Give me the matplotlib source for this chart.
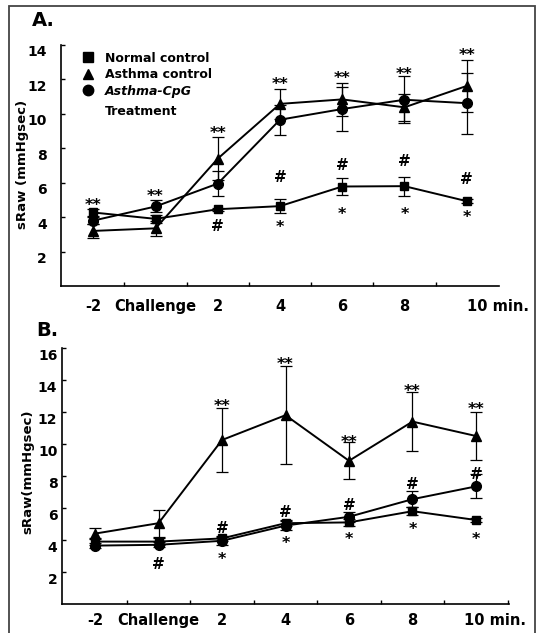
import matplotlib
matplotlib.use('Agg')
import matplotlib.pyplot as plt
import matplotlib.transforms as mtransforms
from matplotlib.lines import Line2D
from matplotlib.patches import Rectangle
import numpy as np

plt.rcParams['font.family'] = ['DejaVu Sans']
plt.rcParams['font.weight'] = 'bold'

# ---------------- data ----------------
categories = ['-2', 'Challenge', '2', '4', '6', '8', '10 min.']
series_names = ['Normal control', 'Asthma control', 'Asthma-CpG']

# Panel A
normal_A = [4.27, 3.90, 4.46, 4.64, 5.78, 5.80, 4.93]
normal_A_err = [0.20, 0.25, 0.10, 0.42, 0.47, 0.55, 0.10]
asthma_A = [3.20, 3.35, 7.40, 10.58, 10.84, 10.38, 11.62]
asthma_A_err = [0.42, 0.45, 1.26, 0.88, 0.98, 0.78, 1.50]
cpg_A = [3.80, 4.62, 5.95, 9.66, 10.28, 10.82, 10.62]
cpg_A_err = [0.20, 0.35, 0.75, 0.86, 1.30, 1.36, 1.78]

# Panel B
normal_B = [3.90, 3.90, 4.10, 5.05, 5.10, 5.80, 5.25]
normal_B_err = [0.20, 0.20, 0.15, 0.20, 0.20, 0.25, 0.10]
asthma_B = [4.40, 5.05, 10.25, 11.80, 8.95, 11.40, 10.50]
asthma_B_err = [0.35, 0.85, 2.00, 3.05, 1.15, 1.85, 1.50]
cpg_B = [3.65, 3.70, 3.95, 4.90, 5.45, 6.55, 7.35]
cpg_B_err = [0.15, 0.15, 0.25, 0.30, 0.30, 0.50, 0.75]

# significance marks (index of time point, y value)
A_dstar_idx = [0, 1, 2, 3, 4, 5, 6]
A_dstar_y = [4.80, 5.30, 9.00, 11.84, 12.20, 12.40, 13.50]
A_hash_idx = [2, 3, 4, 5, 6]
A_hash_y = [3.53, 6.34, 7.07, 7.30, 6.24]
A_star_idx = [3, 4, 5, 6]
A_star_y = [3.53, 4.30, 4.30, 4.08]

B_dstar_idx = [2, 3, 4, 5, 6]
B_dstar_y = [12.50, 15.10, 10.25, 13.40, 12.27]
B_hash_idx = [1, 2, 3, 4, 5, 6]
B_hash_y = [2.54, 4.80, 5.77, 6.19, 7.54, 8.17]
B_star_idx = [2, 3, 4, 5, 6]
B_star_y = [2.90, 3.90, 4.20, 4.80, 4.20]

yticks_A = [2, 4, 6, 8, 10, 12, 14]
yticks_B = [2, 4, 6, 8, 10, 12, 14, 16]
xtick_pos_A = [0, 1, 2, 3, 4, 5, 6.5]
xtick_pos_B = [0, 1, 2, 3, 4, 5, 6.3]

# ---------------- figure ----------------
W, H = 537, 633
fig = plt.figure(figsize=(W / 100, H / 100), dpi=100)

def box(l, r, t, b):
    return [l / W, (H - b) / H, (r - l) / W, (b - t) / H]

axA = fig.add_axes(box(61, 499, 45, 286))
axB = fig.add_axes(box(62, 509, 348, 604))


def draw_panel(ax, normal, nerr, asthma, aerr, cpg, cerr, ymax, yticks,
               xtick_pos, ypad, xpad):
    x = np.arange(len(normal))
    kw = dict(color='black', lw=1.4, elinewidth=0.9, capsize=4, capthick=0.9)
    ax.errorbar(x, asthma, yerr=aerr, marker='^', ms=7, **kw)
    ax.errorbar(x, cpg, yerr=cerr, marker='o', ms=7, **kw)
    ax.errorbar(x, normal, yerr=nerr, marker='s', ms=6, **kw)
    ax.set_xlim(-0.52, 6.52)
    ax.set_ylim(0, ymax)
    for s in ['top', 'right']:
        ax.spines[s].set_visible(False)
    for s in ['left', 'bottom']:
        ax.spines[s].set_linewidth(1.2)
    ax.set_yticks(yticks)
    ax.set_yticklabels([str(v) for v in yticks], fontsize=10, fontweight='bold')
    ax.tick_params(axis='y', direction='in', length=3, width=1, pad=ypad)
    ax.set_xticks(xtick_pos)
    ax.set_xticklabels(categories, fontsize=10.5, fontweight='bold')
    ax.set_xticks(np.arange(len(normal)) + 0.5, minor=True)
    ax.tick_params(axis='x', which='major', length=0, pad=xpad)
    ax.tick_params(axis='x', which='minor', direction='in', length=3, width=1)
    off = mtransforms.ScaledTranslation(0, -0.06, fig.dpi_scale_trans)
    for lab in ax.get_yticklabels():
        lab.set_transform(lab.get_transform() + off)


def annotate(ax, idx, ys, s, fs, dyf):
    for i, y in zip(idx, ys):
        ax.annotate(s, (i, y), xytext=(0, -dyf * fs), textcoords='offset points',
                    ha='center', va='baseline', fontsize=fs, fontweight='bold')


draw_panel(axA, normal_A, normal_A_err, asthma_A, asthma_A_err, cpg_A, cpg_A_err,
           14, yticks_A, xtick_pos_A, 10, 9.7)
draw_panel(axB, normal_B, normal_B_err, asthma_B, asthma_B_err, cpg_B, cpg_B_err,
           16, yticks_B, xtick_pos_B, 3.3, 6.8)

annotate(axA, A_dstar_idx, A_dstar_y, '**', 11.5, 0.42)
annotate(axA, A_hash_idx, A_hash_y, '#', 11, 0.36)
annotate(axA, A_star_idx, A_star_y, '*', 11.5, 0.42)
annotate(axB, B_dstar_idx, B_dstar_y, '**', 11.5, 0.42)
annotate(axB, B_hash_idx, B_hash_y, '#', 11, 0.36)
annotate(axB, B_star_idx, B_star_y, '*', 11.5, 0.42)

# legend (panel A)
handles = [Line2D([], [], ls='none', marker='s', ms=6.5, color='black'),
           Line2D([], [], ls='none', marker='^', ms=7.5, color='black'),
           Line2D([], [], ls='none', marker='o', ms=7.5, color='black')]
leg = axA.legend(handles, series_names, loc='upper left',
                 bbox_to_anchor=(0.0474, 0.972), frameon=False, borderpad=0,
                 handlelength=1.0, handletextpad=0.86, labelspacing=0.28,
                 borderaxespad=0, prop={'size': 9, 'weight': 'bold'})
leg.get_texts()[2].set_fontstyle('italic')
axA.text(0.1, 0.722, 'Treatment', transform=axA.transAxes, fontsize=9,
         fontweight='bold', ha='left', va='center')

# panel letters and y labels
fig.text(32 / W, 1 - 21 / H, 'A.', fontsize=14, fontweight='bold', ha='left', va='center')
fig.text(36 / W, 1 - 330 / H, 'B.', fontsize=14, fontweight='bold', ha='left', va='center')
fig.text(22.5 / W, 1 - 164.5 / H, 'sRaw (mmHgsec)', rotation=90, fontsize=9.5,
         fontweight='bold', ha='center', va='center')
fig.text(28 / W, 1 - 471.5 / H, 'sRaw(mmHgsec)', rotation=90, fontsize=9.5,
         fontweight='bold', ha='center', va='center')

# outer scanned frame
fig.patches.append(Rectangle((9 / W, -0.01), (535 - 9) / W, 1 - 6 / H + 0.01,
                             transform=fig.transFigure, fill=False,
                             edgecolor='#444444', lw=1.3))

fig.savefig('out.png', dpi=100)
